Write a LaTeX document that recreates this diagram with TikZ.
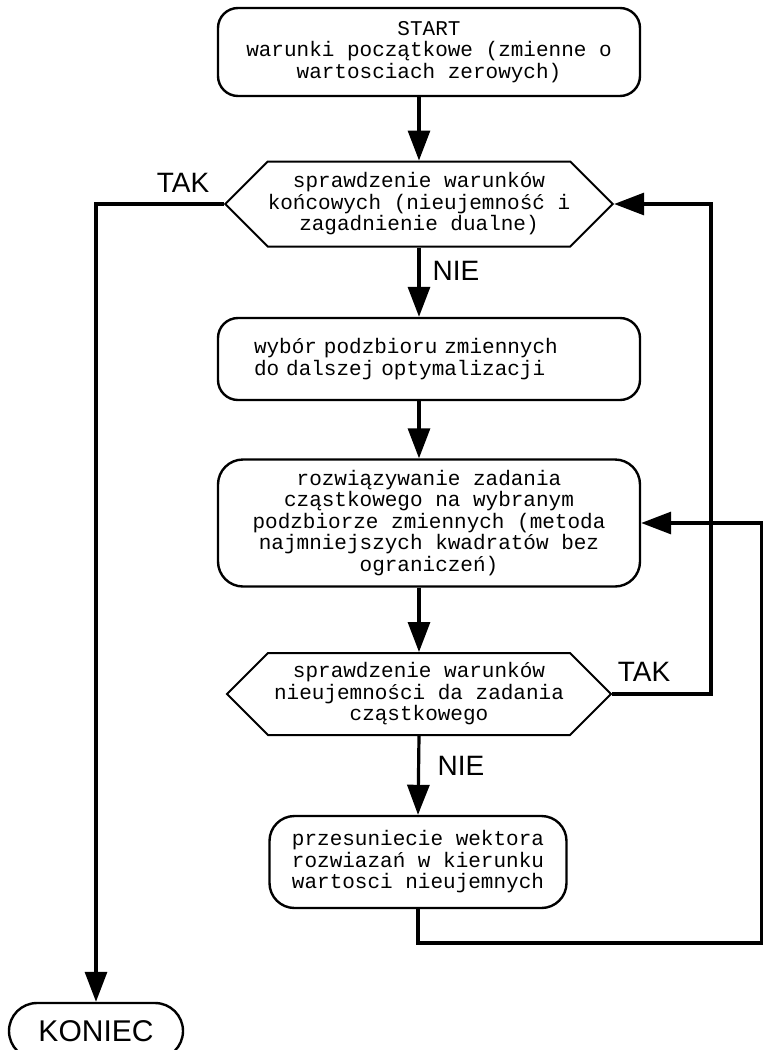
\documentclass[tikz,border=0pt]{standalone}
\usepackage{fontspec}
\newfontfamily\cadfont{Liberation Mono}
\newfontfamily\labfont{Liberation Sans}
\usetikzlibrary{arrows.meta,positioning,calc,shapes.misc,shapes.symbols}

\begin{document}
\begin{tikzpicture}[x=1pt,y=-1pt,
  box/.style={draw, line width=2.4pt, rounded corners=20pt, align=center, inner sep=0pt,
    font=\cadfont\fontsize{21}{21.5}\selectfont},
  decision/.style={draw, line width=2pt, signal, signal to=west and east, signal pointer angle=90,
    align=center, inner sep=0pt, font=\cadfont\fontsize{21}{21.5}\selectfont},
  flow/.style={line width=3.2pt, -{Triangle[length=30pt,width=22pt]}},
  lbl/.style={font=\labfont\fontsize{28}{28}\selectfont}]
  \useasboundingbox (0,0) rectangle (763,1050);

  % boxes and decisions
  \node[box, minimum width=422pt, minimum height=88pt] (start) at (429,52)
    {START\\warunki początkowe (zmienne o\\wartosciach zerowych)};
  \node[decision, minimum width=379pt, minimum height=85pt] (check1) at (419,204)
    {sprawdzenie warunków\\końcowych (nieujemność i\\zagadnienie dualne)};
  \node[box, minimum width=422pt, minimum height=82pt, text width=350pt, align=left] (choose) at (429,359)
    {wybór podzbioru zmiennych\\do dalszej optymalizacji};
  \node[box, minimum width=422pt, minimum height=127pt, rounded corners=25pt] (solve) at (429,523)
    {rozwiązywanie zadania\\cząstkowego na wybranym\\podzbiorze zmiennych (metoda\\najmniejszych kwadratów bez\\ograniczeń)};
  \node[decision, minimum width=384pt, minimum height=82pt] (check2) at (419,694)
    {sprawdzenie warunków\\nieujemności da zadania\\cząstkowego};
  \node[box, minimum width=297pt, minimum height=92pt, rounded corners=25pt] (shift) at (418,862)
    {przesuniecie wektora\\rozwiazań w kierunku\\wartosci nieujemnych};
  \node[box, minimum width=174pt, minimum height=56pt, rounded corners=28pt,
    font=\labfont\fontsize{30}{30}\selectfont] (koniec) at (96,1031) {KONIEC};

  % labels
  \node[lbl] (tak1) at (183,183) {TAK};
  \node[lbl] (nie1) at (456,271) {NIE};
  \node[lbl] (tak2) at (644,672) {TAK};
  \node[lbl] (nie2) at (461,766) {NIE};

  \coordinate (rightline) at (711,0);
  \coordinate (loopcorner) at (761.5,943);

  % connectors
  \draw[flow] (check1.north |- start.south) -- (check1.north);
  \draw[flow] (check1.south) -- (check1.south |- choose.north);
  \draw[flow] (check1.south |- choose.south) -- (check1.south |- solve.north);
  \draw[flow] (check2.north |- solve.south) -- (check2.north);
  \draw[flow] (check2.south) -- (shift.north);
  \draw[flow] (shift.south) |- (loopcorner) |- (solve.east);
  \draw[flow] (check2.east) -| (rightline |- check1.east) -- (check1.east);
  \draw[flow] (check1.west) -| (koniec.north);
\end{tikzpicture}
\end{document}
